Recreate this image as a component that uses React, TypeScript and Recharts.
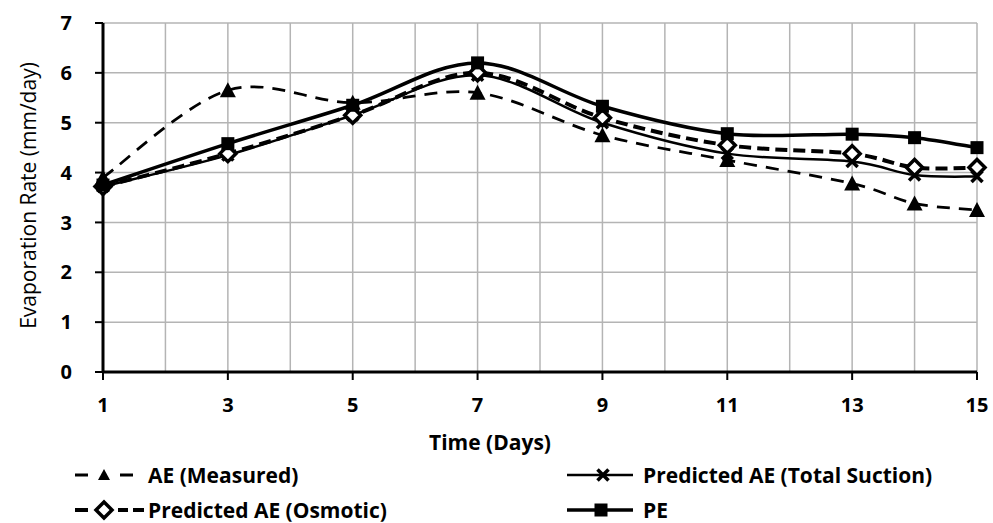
import { CartesianGrid, Line, LineChart, XAxis, YAxis } from "recharts";

const days = [1, 3, 5, 7, 9, 11, 13, 14, 15];
const aeMeasured = [3.9, 5.65, 5.4, 5.6, 4.75, 4.25, 3.78, 3.38, 3.25];
const aeTotalSuction = [3.72, 4.35, 5.15, 5.95, 5.0, 4.38, 4.22, 3.95, 3.92];
const aeOsmotic = [3.72, 4.38, 5.15, 6.0, 5.1, 4.55, 4.38, 4.1, 4.1];
const pe = [3.75, 4.58, 5.35, 6.2, 5.33, 4.78, 4.77, 4.7, 4.5];

const xTicks = [1, 2, 3, 4, 5, 6, 7, 8, 9, 10, 11, 12, 13, 14, 15];
const yTicks = [0, 1, 2, 3, 4, 5, 6, 7];

const rows = days.map((d, i) => ({
  day: d,
  ae: aeMeasured[i],
  ts: aeTotalSuction[i],
  osm: aeOsmotic[i],
  pe: pe[i],
}));

const FONT = "'Open Sans', 'DejaVu Sans', sans-serif";

// Excel-style smoothing: Catmull-Rom through the points as cubic beziers.
function excelCurve(context: any) {
  let pts: [number, number][] = [];
  return {
    areaStart() {},
    areaEnd() {},
    lineStart() {
      pts = [];
    },
    point(x: number, y: number) {
      pts.push([x, y]);
    },
    lineEnd() {
      if (!pts.length) return;
      context.moveTo(pts[0][0], pts[0][1]);
      for (let i = 0; i < pts.length - 1; i++) {
        const p0 = pts[i - 1] || pts[i];
        const p1 = pts[i];
        const p2 = pts[i + 1];
        const p3 = pts[i + 2] || pts[i + 1];
        context.bezierCurveTo(
          p1[0] + (p2[0] - p0[0]) / 6,
          p1[1] + (p2[1] - p0[1]) / 6,
          p2[0] - (p3[0] - p1[0]) / 6,
          p2[1] - (p3[1] - p1[1]) / 6,
          p2[0],
          p2[1]
        );
      }
    },
  };
}

const triangle = (cx: number, cy: number, k: string, r = 8) => (
  <polygon key={k} points={`${cx},${cy - r} ${cx - r},${cy + r - 1} ${cx + r},${cy + r - 1}`} fill="#000" />
);
const cross = (cx: number, cy: number, k: string) => (
  <g key={k} stroke="#000" strokeWidth={3.5}>
    <line x1={cx - 5.5} y1={cy - 5.5} x2={cx + 5.5} y2={cy + 5.5} />
    <line x1={cx - 5.5} y1={cy + 5.5} x2={cx + 5.5} y2={cy - 5.5} />
  </g>
);
const diamond = (cx: number, cy: number, k: string) => (
  <polygon
    key={k}
    points={`${cx},${cy - 8} ${cx + 8},${cy} ${cx},${cy + 8} ${cx - 8},${cy}`}
    fill="#fff"
    stroke="#000"
    strokeWidth={3.5}
  />
);
const square = (cx: number, cy: number, k: string) => (
  <rect key={k} x={cx - 6.5} y={cy - 6.5} width={13} height={13} fill="#000" />
);

function makeDot(draw: (cx: number, cy: number, k: string) => any, name: string) {
  return (p: any) => draw(p.cx, p.cy, `${name}-${p.index}`);
}

function DayTick({ x, y, payload }: any) {
  if (payload.value % 2 === 0) return null;
  return (
    <g>
      <line x1={x} y1={y} x2={x} y2={y + 8} stroke="#000" strokeWidth={2} />
      <text
        x={x}
        y={y + 26}
        dy="0.71em"
        textAnchor="middle"
        fontFamily={FONT}
        fontWeight={700}
        fontSize={20}
        fill="#000"
      >
        {payload.value}
      </text>
    </g>
  );
}

function LegendItem({ left, top, symbol, label }: { left: number; top: number; symbol: any; label: string }) {
  return (
    <div style={{ position: "absolute", left, top, height: 22, display: "flex", alignItems: "center" }}>
      <svg width={72} height={22} style={{ display: "block" }}>
        {symbol}
      </svg>
      <span
        style={{ marginLeft: 4, fontFamily: FONT, fontWeight: 700, fontSize: 21, lineHeight: "22px", color: "#000" }}
      >
        {label}
      </span>
    </div>
  );
}

export default function App() {
  return (
    <div style={{ position: "relative", width: 993, height: 523, background: "#fff", overflow: "hidden" }}>
      <style>{"body{margin:0;background:#fff}"}</style>
      <LineChart width={993} height={523} data={rows} margin={{ top: 23, right: 16, bottom: 73, left: 0 }}>
        <CartesianGrid stroke="#b4b4b4" strokeWidth={1.5} />
        <XAxis
          dataKey="day"
          type="number"
          domain={[1, 15]}
          ticks={xTicks}
          interval={0}
          height={78}
          tickSize={0}
          tickMargin={0}
          tickLine={false}
          tick={<DayTick />}
          axisLine={{ stroke: "#000", strokeWidth: 3 }}
          label={{
            value: "Time (Days)",
            position: "insideBottom",
            offset: 0,
            dx: -50,
            style: { fontFamily: FONT, fontWeight: 700, fontSize: 21, fill: "#000" },
          }}
        />
        <YAxis
          type="number"
          domain={[0, 7]}
          ticks={yTicks}
          interval={0}
          width={103}
          tickSize={8}
          tickMargin={2}
          tick={{ fontFamily: FONT, fontWeight: 700, fontSize: 20, fill: "#000", dx: -21 }}
          tickLine={{ stroke: "#000", strokeWidth: 2 }}
          axisLine={{ stroke: "#000", strokeWidth: 3 }}
          label={{
            value: "Evaporation Rate (mm/day)",
            angle: -90,
            position: "center",
            dx: -23,
            dy: -2,
            style: { fontFamily: FONT, fontSize: 21, fill: "#000", textAnchor: "middle" },
          }}
        />
        <Line
          dataKey="ae"
          type={excelCurve as any}
          stroke="#000"
          strokeWidth={2.75}
          strokeDasharray="13 9"
          dot={makeDot(triangle, "ae")}
          isAnimationActive={false}
        />
        <Line
          dataKey="ts"
          type={excelCurve as any}
          stroke="#000"
          strokeWidth={2.5}
          dot={makeDot(cross, "ts")}
          isAnimationActive={false}
        />
        <Line
          dataKey="osm"
          type={excelCurve as any}
          stroke="#000"
          strokeWidth={4}
          strokeDasharray="12 6"
          dot={makeDot(diamond, "osm")}
          isAnimationActive={false}
        />
        <Line
          dataKey="pe"
          type={excelCurve as any}
          stroke="#000"
          strokeWidth={3.5}
          dot={makeDot(square, "pe")}
          isAnimationActive={false}
        />
      </LineChart>

      <LegendItem
        left={72}
        top={464}
        label="AE (Measured)"
        symbol={
          <g>
            <line x1={3} y1={11} x2={16} y2={11} stroke="#000" strokeWidth={3} />
            {triangle(32, 11, "lt", 6)}
            <line x1={48} y1={11} x2={61} y2={11} stroke="#000" strokeWidth={3} />
          </g>
        }
      />
      <LegendItem
        left={72}
        top={499}
        label="Predicted AE (Osmotic)"
        symbol={
          <g>
            <line x1={3} y1={11} x2={16} y2={11} stroke="#000" strokeWidth={4} />
            <line x1={46} y1={11} x2={56} y2={11} stroke="#000" strokeWidth={4} />
            <line x1={61} y1={11} x2={72} y2={11} stroke="#000" strokeWidth={4} />
            {diamond(32, 11, "ld")}
          </g>
        }
      />
      <LegendItem
        left={567}
        top={464}
        label="Predicted AE (Total Suction)"
        symbol={
          <g>
            <line x1={0} y1={11} x2={66} y2={11} stroke="#000" strokeWidth={2.5} />
            {cross(36, 11, "lx")}
          </g>
        }
      />
      <LegendItem
        left={567}
        top={499}
        label="PE"
        symbol={
          <g>
            <line x1={0} y1={11} x2={66} y2={11} stroke="#000" strokeWidth={3.5} />
            {square(34, 11, "ls")}
          </g>
        }
      />
    </div>
  );
}
